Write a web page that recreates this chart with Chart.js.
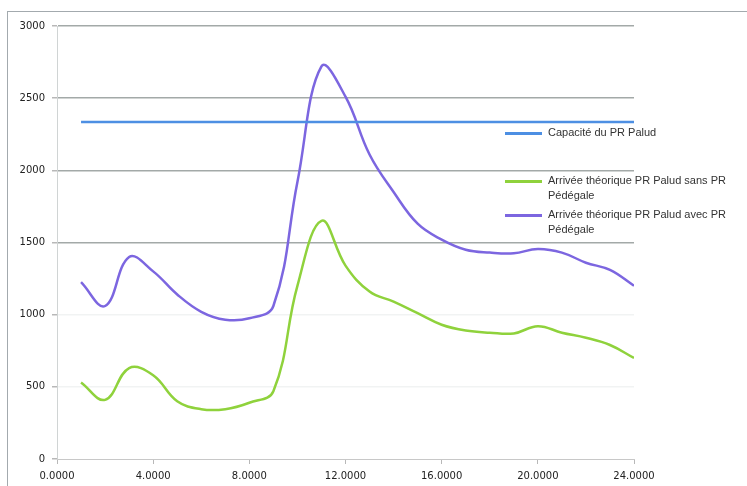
<!DOCTYPE html>
<html>
<head>
<meta charset="utf-8">
<script src="https://cdn.jsdelivr.net/npm/chart.js@4"></script>
<style>
    html, body { margin: 0; padding: 0; background: #fff; }
    #wrap { position: relative; width: 747px; height: 486px; overflow: hidden; }
    #frame { position: absolute; left: 7px; top: 11px; right: -2px; bottom: -2px;
             border-left: 1px solid #a3aaae; border-top: 1px solid #a3aaae; }
    #myChart { position: absolute; left: 0; top: 0; }
    #legend { position: absolute; left: 505px; top: 0; font: 11px "Liberation Sans", Arial, sans-serif; color: #333; }
    .item { position: absolute; left: 0; width: 240px; }
    .item i { position: absolute; left: 0; width: 37px; height: 3px; }
    .item span { position: absolute; left: 43px; width: 195px; line-height: 15px; }
</style>
</head>
<body>
<div id="wrap">
    <div id="frame"></div>
    <canvas id="myChart" width="747" height="486"></canvas>
    <div id="legend"></div>
</div>
<script>
// heures (axe x)
var hours = [1, 2, 3, 4, 5, 6, 7, 8, 9, 10, 11, 12, 13, 14, 15, 16, 17, 18, 19, 20, 21, 22, 23, 24];
var capacite = [2335, 2335, 2335, 2335, 2335, 2335, 2335, 2335, 2335, 2335, 2335, 2335,
                2335, 2335, 2335, 2335, 2335, 2335, 2335, 2335, 2335, 2335, 2335, 2335];
var sansPedegale = [530, 410, 630, 580, 400, 345, 345, 390, 470, 1200, 1650, 1340,
                    1160, 1090, 1010, 930, 890, 875, 870, 920, 875, 840, 790, 700];
var avecPedegale = [1225, 1060, 1400, 1300, 1140, 1020, 965, 975, 1060, 1920, 2720, 2510,
                    2110, 1850, 1630, 1520, 1450, 1430, 1425, 1455, 1430, 1360, 1310, 1200];
var seriesNames = ["Capacité du PR Palud",
                   "Arrivée théorique PR Palud sans PR Pédégale",
                   "Arrivée théorique PR Palud avec PR Pédégale"];
var xTicks = [0, 4, 8, 12, 16, 20, 24];
var yTicks = [0, 500, 1000, 1500, 2000, 2500, 3000];

function pts(values) {
    return values.map(function (v, i) { return { x: hours[i], y: v }; });
}

var colors = ["#4d8fe3", "#8fd23c", "#7c66e0"];
var series = [capacite, sansPedegale, avecPedegale];
var legendTop = [133, 181, 215];

var chart = new Chart("myChart", {
    type: "line",
    data: {
        datasets: series.map(function (s, i) {
            return {
                label: seriesNames[i],
                data: pts(s),
                borderColor: colors[i],
                backgroundColor: colors[i],
                borderWidth: 2.5,
                pointRadius: 0,
                tension: 0.4
            };
        })
    },
    options: {
        responsive: false,
        animation: false,
        layout: { padding: { left: 0, right: 113, top: 26, bottom: 0 } },
        plugins: { legend: { display: false }, tooltip: { enabled: false } },
        scales: {
            x: {
                type: "linear",
                min: 0, max: 24,
                afterBuildTicks: function (axis) { axis.ticks = xTicks.map(function (v) { return { value: v }; }); },
                afterFit: function (axis) { axis.height = 27; },
                ticks: {
                    padding: 6,
                    color: "#222",
                    font: { family: "DejaVu Sans", size: 10 },
                    callback: function (v) { return Number(v).toFixed(4); }
                },
                grid: { drawOnChartArea: false, tickLength: 5, tickColor: "#b8b8b8" },
                border: { color: "#c8c8c8" }
            },
            y: {
                min: 0, max: 3000,
                afterBuildTicks: function (axis) { axis.ticks = yTicks.map(function (v) { return { value: v }; }); },
                afterFit: function (axis) { axis.width = 57; },
                ticks: {
                    padding: 7,
                    color: "#222",
                    font: { family: "DejaVu Sans", size: 10 },
                    callback: function (v) { return String(v); }
                },
                grid: {
                    tickLength: 5,
                    tickColor: "#b8b8b8",
                    lineWidth: 1.5,
                    color: function (ctx) {
                        if (ctx.tick && ctx.tick.value === 0) return "rgba(0,0,0,0)";
                        return ctx.tick && ctx.tick.value >= 1500 ? "#a3a9a8" : "#f1f3f3";
                    }
                },
                border: { color: "#d0d4d4" }
            }
        }
    }
});

// légende à droite, superposée au graphique
var legend = document.getElementById("legend");
seriesNames.forEach(function (name, i) {
    var d = document.createElement("div");
    d.className = "item";
    d.style.top = legendTop[i] + "px";
    d.innerHTML = '<i style="background:' + colors[i] + ';top:-1px"></i><span style="top:-8px">' + name + '</span>';
    legend.appendChild(d);
});
</script>
</body>
</html>
